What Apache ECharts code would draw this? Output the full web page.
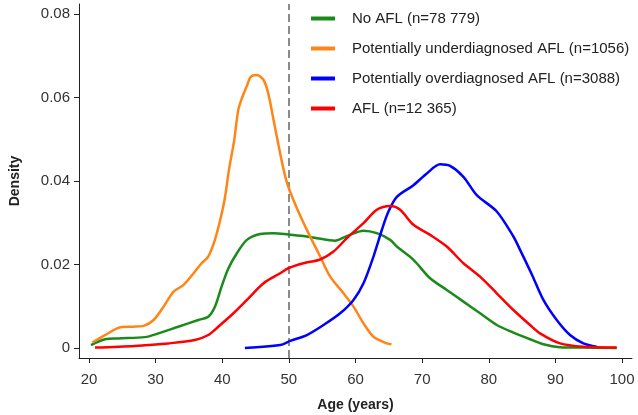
<!DOCTYPE html>
<html>
<head>
<meta charset="utf-8">
<script src="https://cdn.jsdelivr.net/npm/echarts@6/dist/echarts.min.js"></script>
<style>
html, body { margin: 0; padding: 0; background: #fff; }
#chart { width: 638px; height: 415px; }
</style>
</head>
<body>
<div id="chart"></div>
<script>
// [age, density]
var noAfl = [[20.3,0.0007],[22.4,0.0021],[24.4,0.0023],[28.4,0.0026],[30.4,0.0035],[33.4,0.0051],[36.4,0.0067],[37.9,0.0075],[38.9,0.0099],[39.9,0.0147],[40.9,0.0190],[42.2,0.0227],[43.7,0.0259],[45.7,0.0273],[47.7,0.0275],[49.9,0.0272],[52.2,0.0268],[54.2,0.0263],[56.9,0.0257],[58.7,0.0268],[61.2,0.0281],[63.2,0.0275],[65.2,0.0259],[66.2,0.0243],[68.7,0.0211],[71.2,0.0167],[73.7,0.0139],[76.2,0.0111],[78.7,0.0083],[81.2,0.0055],[83.7,0.0037],[86.2,0.0021],[88.2,0.0009],[90.7,0.0002],[94,0.0001],[99.2,0]];
var underAfl = [[20.5,0.0013],[22.4,0.0031],[24.9,0.0050],[26.6,0.0051],[28.2,0.0053],[29.7,0.0067],[31.2,0.0099],[32.7,0.0135],[34.2,0.0151],[35.7,0.0179],[36.9,0.0203],[37.9,0.0219],[38.9,0.0259],[39.7,0.0307],[40.4,0.0360],[41.0,0.0426],[41.8,0.0498],[42.4,0.0570],[42.9,0.0596],[43.7,0.0628],[44.3,0.0650],[45.2,0.0654],[46.2,0.0642],[46.9,0.0610],[47.9,0.0530],[48.9,0.0450],[49.6,0.0402],[50.1,0.0378],[51.2,0.0335],[52.7,0.0283],[54.7,0.0219],[56.2,0.0171],[58.2,0.0131],[59.7,0.0099],[61.2,0.0059],[62.7,0.0027],[64.7,0.0011],[65.4,0.0009]];
var overAfl = [[43.4,0.0000],[48.7,0.0007],[50.2,0.0017],[52.7,0.0031],[55.2,0.0055],[57.7,0.0083],[59.7,0.0115],[61.2,0.0155],[62.7,0.0219],[64.0,0.0285],[64.9,0.0325],[66.2,0.0362],[68.7,0.0390],[70.7,0.0418],[72.7,0.0440],[74.2,0.0436],[76.2,0.0410],[78.2,0.0366],[81.2,0.0327],[83.7,0.0267],[84.7,0.0235],[86.5,0.0175],[88.2,0.0115],[90.2,0.0067],[92.2,0.0031],[94.2,0.0011],[96.2,0.0003]];
var afl = [[20.9,0.0001],[26.9,0.0005],[31.9,0.0011],[35.9,0.0019],[37.9,0.0031],[39.4,0.0051],[41.6,0.0082],[43.7,0.0115],[46.2,0.0155],[48.7,0.0179],[49.9,0.0191],[52.2,0.0203],[54.7,0.0212],[56.7,0.0231],[58.7,0.0263],[61.2,0.0299],[63.2,0.0331],[65.2,0.0340],[66.7,0.0331],[68.7,0.0295],[71.2,0.0271],[73.7,0.0243],[76.2,0.0203],[78.7,0.0171],[81.2,0.0131],[83.7,0.0091],[86.2,0.0055],[87.7,0.0035],[90.7,0.0011],[94.2,0.0003],[99.2,0.0001]];

var xTicks = [20, 30, 40, 50, 60, 70, 80, 90, 100];
var yTicks = [0, 0.02, 0.04, 0.06, 0.08];
var seriesNames = ['No AFL (n=78 779)', 'Potentially underdiagnosed AFL (n=1056)', 'Potentially overdiagnosed AFL (n=3088)', 'AFL (n=12 365)'];
var cutoffAge = 50;

var font = 'Liberation Sans, Arial, sans-serif';
var myChart = echarts.init(document.getElementById('chart'));

function mkSeries(name, data, color) {
    return {
        name: name,
        type: 'line',
        data: data,
        showSymbol: false,
        smooth: 0.3,
        lineStyle: { width: 2.5, color: color },
        itemStyle: { color: color },
        z: 3
    };
}

var series = [
    mkSeries(seriesNames[0], noAfl, '#1a8a1a'),
    mkSeries(seriesNames[1], underAfl, '#ff8517'),
    mkSeries(seriesNames[2], overAfl, '#0000ff'),
    mkSeries(seriesNames[3], afl, '#ff0000')
];
series[0].markLine = {
    silent: true,
    symbol: 'none',
    label: { show: false },
    lineStyle: { type: [8, 4], color: '#666', width: 1.5 },
    data: [{ xAxis: cutoffAge }],
    z: 2
};

var option = {
    animation: false,
    backgroundColor: '#fff',
    grid: { left: 79, right: 6, top: 4, bottom: 57, outerBoundsMode: 'none', containLabel: false },
    legend: {
        orient: 'vertical',
        left: 306,
        top: 6,
        itemWidth: 24,
        itemHeight: 4,
        itemGap: 15,
        icon: 'rect',
        textStyle: { fontFamily: font, fontSize: 15, color: '#222', padding: [0, 0, 0, 12] },
        data: seriesNames
    },
    xAxis: {
        type: 'value',
        min: 18.5,
        max: 101.5,
        name: 'Age (years)',
        nameLocation: 'middle',
        nameGap: 40,
        nameTextStyle: { fontFamily: font, fontSize: 14, fontWeight: 'bold', color: '#222' },
        axisLine: { onZero: false, lineStyle: { color: '#222', width: 1 } },
        axisTick: { show: true, length: 5, customValues: xTicks, lineStyle: { color: '#222' } },
        axisLabel: { customValues: xTicks, margin: 14, fontFamily: font, fontSize: 15, color: '#333' },
        splitLine: { show: false }
    },
    yAxis: {
        type: 'value',
        min: -0.0024,
        max: 0.0824,
        name: 'Density',
        nameLocation: 'middle',
        nameGap: 57,
        nameTextStyle: { fontFamily: font, fontSize: 14, fontWeight: 'bold', color: '#222' },
        axisLine: { show: true, lineStyle: { color: '#222', width: 1 } },
        axisTick: { show: true, length: 5, customValues: yTicks, lineStyle: { color: '#222' } },
        axisLabel: { customValues: yTicks, margin: 9, fontFamily: font, fontSize: 15, color: '#333',
            formatter: function (v) { return String(+v.toFixed(2)); } },
        splitLine: { show: false }
    },
    series: series
};

myChart.setOption(option);
</script>
</body>
</html>
